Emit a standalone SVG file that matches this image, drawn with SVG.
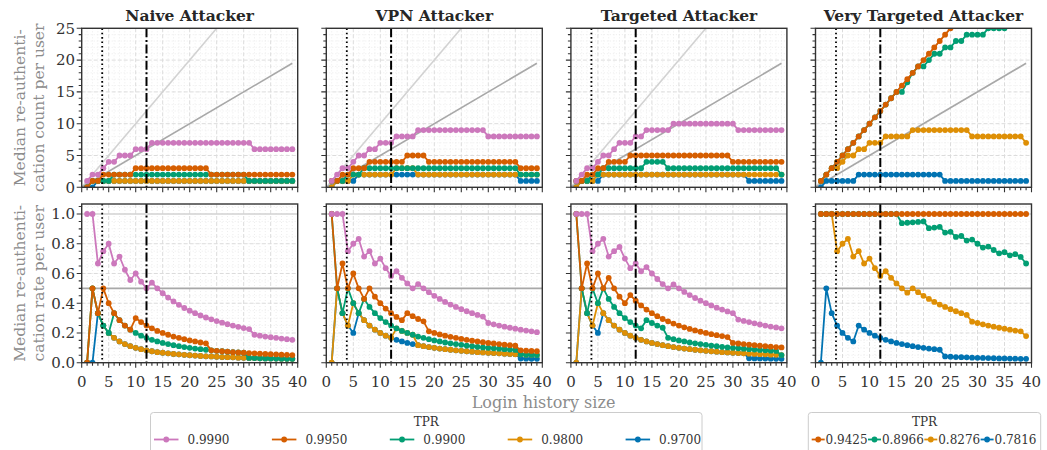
<svg xmlns="http://www.w3.org/2000/svg" width="1047" height="450" viewBox="0 0 1047 450">
<style>
text{font-family:"DejaVu Serif","Liberation Serif",serif}
.tl{font-size:15px;fill:#333}
.ty{text-anchor:end}
.tx{text-anchor:middle}
.ttl{font-size:15.5px;font-weight:bold;fill:#262626;text-anchor:middle}
.yl{font-size:15.5px;fill:#8c8c8c;text-anchor:middle}
.xl{font-size:16px;fill:#8c8c8c;text-anchor:middle}
.lg{font-size:12px;fill:#333}
.gmaj{fill:none;stroke:#dcdcdc;stroke-width:1;stroke-dasharray:4,2}
.gmin{fill:none;stroke:#e8e8e8;stroke-width:.8;stroke-dasharray:1,2}
.frame{fill:none;stroke:#333;stroke-width:1.4}
.tk{fill:none;stroke:#333;stroke-width:1.1}
.ref1{fill:none;stroke:#d2d2d2;stroke-width:1.6}
.ref2{fill:none;stroke:#a8a8a8;stroke-width:1.6}
.vdot{stroke:#000;stroke-width:1.8;stroke-dasharray:1.6,2.8}
.vdd{stroke:#000;stroke-width:2;stroke-dasharray:9,2.6,2,2.6}
.s{fill:none;stroke-width:1.8;stroke-linejoin:round;vector-effect:non-scaling-stroke}
.p{stroke:#cc78bc}.r{stroke:#d55e00}.g{stroke:#029e73}.o{stroke:#de8f05}.b{stroke:#0173b2}
.T .p{marker-start:url(#Tp);marker-mid:url(#Tp);marker-end:url(#Tp)}
.T .r{marker-start:url(#Tr);marker-mid:url(#Tr);marker-end:url(#Tr)}
.T .g{marker-start:url(#Tg);marker-mid:url(#Tg);marker-end:url(#Tg)}
.T .o{marker-start:url(#To);marker-mid:url(#To);marker-end:url(#To)}
.T .b{marker-start:url(#Tb);marker-mid:url(#Tb);marker-end:url(#Tb)}
.B .p{marker-start:url(#Bp);marker-mid:url(#Bp);marker-end:url(#Bp)}
.B .r{marker-start:url(#Br);marker-mid:url(#Br);marker-end:url(#Br)}
.B .g{marker-start:url(#Bg);marker-mid:url(#Bg);marker-end:url(#Bg)}
.B .o{marker-start:url(#Bo);marker-mid:url(#Bo);marker-end:url(#Bo)}
.B .b{marker-start:url(#Bb);marker-mid:url(#Bb);marker-end:url(#Bb)}
.lgl{stroke-width:1.8;fill:none}
</style>
<defs>
<marker id="Tp" markerUnits="userSpaceOnUse" markerWidth="1" markerHeight="1" overflow="visible"><ellipse rx=".537" ry=".456" fill="#cc78bc"/></marker>
<marker id="Tr" markerUnits="userSpaceOnUse" markerWidth="1" markerHeight="1" overflow="visible"><ellipse rx=".537" ry=".456" fill="#d55e00"/></marker>
<marker id="Tg" markerUnits="userSpaceOnUse" markerWidth="1" markerHeight="1" overflow="visible"><ellipse rx=".537" ry=".456" fill="#029e73"/></marker>
<marker id="To" markerUnits="userSpaceOnUse" markerWidth="1" markerHeight="1" overflow="visible"><ellipse rx=".537" ry=".456" fill="#de8f05"/></marker>
<marker id="Tb" markerUnits="userSpaceOnUse" markerWidth="1" markerHeight="1" overflow="visible"><ellipse rx=".537" ry=".456" fill="#0173b2"/></marker>
<marker id="Bp" markerUnits="userSpaceOnUse" markerWidth="1" markerHeight="1" overflow="visible"><ellipse rx=".537" ry=".0195" fill="#cc78bc"/></marker>
<marker id="Br" markerUnits="userSpaceOnUse" markerWidth="1" markerHeight="1" overflow="visible"><ellipse rx=".537" ry=".0195" fill="#d55e00"/></marker>
<marker id="Bg" markerUnits="userSpaceOnUse" markerWidth="1" markerHeight="1" overflow="visible"><ellipse rx=".537" ry=".0195" fill="#029e73"/></marker>
<marker id="Bo" markerUnits="userSpaceOnUse" markerWidth="1" markerHeight="1" overflow="visible"><ellipse rx=".537" ry=".0195" fill="#de8f05"/></marker>
<marker id="Bb" markerUnits="userSpaceOnUse" markerWidth="1" markerHeight="1" overflow="visible"><ellipse rx=".537" ry=".0195" fill="#0173b2"/></marker>
<clipPath id="cT"><rect x="0" y="0" width="40" height="25"/></clipPath>
<clipPath id="cB"><rect x="0" y="0" width="40" height="1.072"/></clipPath>
<g id="topBase">
<path class="gmin" d="M5.4 28.3V187.3M10.8 28.3V187.3M16.2 28.3V187.3M21.6 28.3V187.3M32.4 28.3V187.3M37.8 28.3V187.3M43.2 28.3V187.3M48.6 28.3V187.3M59.4 28.3V187.3M64.8 28.3V187.3M70.2 28.3V187.3M75.6 28.3V187.3M86.4 28.3V187.3M91.8 28.3V187.3M97.2 28.3V187.3M102.6 28.3V187.3M113.4 28.3V187.3M118.8 28.3V187.3M124.2 28.3V187.3M129.6 28.3V187.3M140.4 28.3V187.3M145.8 28.3V187.3M151.2 28.3V187.3M156.6 28.3V187.3M167.4 28.3V187.3M172.8 28.3V187.3M178.2 28.3V187.3M183.6 28.3V187.3M194.4 28.3V187.3M199.8 28.3V187.3M205.2 28.3V187.3M210.6 28.3V187.3M0 180.94H216M0 174.58H216M0 168.22H216M0 161.86H216M0 149.14H216M0 142.78H216M0 136.42H216M0 130.06H216M0 117.34H216M0 110.98H216M0 104.62H216M0 98.26H216M0 85.54H216M0 79.18H216M0 72.82H216M0 66.46H216M0 53.74H216M0 47.38H216M0 41.02H216M0 34.66H216"/>
<path class="gmaj" d="M27 28.3V187.3M54 28.3V187.3M81 28.3V187.3M108 28.3V187.3M135 28.3V187.3M162 28.3V187.3M189 28.3V187.3M0 155.5H216M0 123.7H216M0 91.9H216M0 60.1H216"/>
<path class="ref1" d="M0 187.3L135 28.3"/>
<path class="ref2" d="M0 187.3L210.6 63.28"/>
</g>
<g id="topOver">
<path class="vdot" d="M20.5 28.3V187.3"/>
<path class="vdd" d="M64.8 28.3V187.3"/>
<rect class="frame" x="0" y="28.3" width="216" height="159"/>
<path class="tk" d="M-5 187.3H0M-5 155.5H0M-5 123.7H0M-5 91.9H0M-5 60.1H0M-5 28.3H0M-3 180.94H0M-3 174.58H0M-3 168.22H0M-3 161.86H0M-3 149.14H0M-3 142.78H0M-3 136.42H0M-3 130.06H0M-3 117.34H0M-3 110.98H0M-3 104.62H0M-3 98.26H0M-3 85.54H0M-3 79.18H0M-3 72.82H0M-3 66.46H0M-3 53.74H0M-3 47.38H0M-3 41.02H0M-3 34.66H0M0 187.3v5M27 187.3v5M54 187.3v5M81 187.3v5M108 187.3v5M135 187.3v5M162 187.3v5M189 187.3v5M216 187.3v5M5.4 187.3v3M10.8 187.3v3M16.2 187.3v3M21.6 187.3v3M32.4 187.3v3M37.8 187.3v3M43.2 187.3v3M48.6 187.3v3M59.4 187.3v3M64.8 187.3v3M70.2 187.3v3M75.6 187.3v3M86.4 187.3v3M91.8 187.3v3M97.2 187.3v3M102.6 187.3v3M113.4 187.3v3M118.8 187.3v3M124.2 187.3v3M129.6 187.3v3M140.4 187.3v3M145.8 187.3v3M151.2 187.3v3M156.6 187.3v3M167.4 187.3v3M172.8 187.3v3M178.2 187.3v3M183.6 187.3v3M194.4 187.3v3M199.8 187.3v3M205.2 187.3v3M210.6 187.3v3"/>
</g>
<g id="botBase">
<path class="gmin" d="M5.4 204V362.7M10.8 204V362.7M16.2 204V362.7M21.6 204V362.7M32.4 204V362.7M37.8 204V362.7M43.2 204V362.7M48.6 204V362.7M59.4 204V362.7M64.8 204V362.7M70.2 204V362.7M75.6 204V362.7M86.4 204V362.7M91.8 204V362.7M97.2 204V362.7M102.6 204V362.7M113.4 204V362.7M118.8 204V362.7M124.2 204V362.7M129.6 204V362.7M140.4 204V362.7M145.8 204V362.7M151.2 204V362.7M156.6 204V362.7M167.4 204V362.7M172.8 204V362.7M178.2 204V362.7M183.6 204V362.7M194.4 204V362.7M199.8 204V362.7M205.2 204V362.7M210.6 204V362.7M0 355.27H216M0 347.83H216M0 340.4H216M0 325.53H216M0 318.09H216M0 310.66H216M0 295.79H216M0 280.92H216M0 266.05H216M0 258.61H216M0 251.18H216M0 236.31H216M0 228.87H216M0 221.44H216M0 206.57H216"/>
<path class="gmaj" d="M27 204V362.7M54 204V362.7M81 204V362.7M108 204V362.7M135 204V362.7M162 204V362.7M189 204V362.7M0 332.96H216M0 303.22H216M0 273.48H216M0 243.74H216"/>
<path class="ref1" d="M0 214H216"/>
<path class="ref2" d="M0 288.35H216"/>
</g>
<g id="botOver">
<path class="vdot" d="M20.5 204V362.7"/>
<path class="vdd" d="M64.8 204V362.7"/>
<rect class="frame" x="0" y="204" width="216" height="158.7"/>
<path class="tk" d="M-5 362.7H0M-5 332.96H0M-5 303.22H0M-5 273.48H0M-5 243.74H0M-5 214H0M-3 355.27H0M-3 347.83H0M-3 340.4H0M-3 325.53H0M-3 318.09H0M-3 310.66H0M-3 295.79H0M-3 288.35H0M-3 280.92H0M-3 266.05H0M-3 258.61H0M-3 251.18H0M-3 236.31H0M-3 228.87H0M-3 221.44H0M-3 206.57H0M0 362.7v5M27 362.7v5M54 362.7v5M81 362.7v5M108 362.7v5M135 362.7v5M162 362.7v5M189 362.7v5M216 362.7v5M5.4 362.7v3M10.8 362.7v3M16.2 362.7v3M21.6 362.7v3M32.4 362.7v3M37.8 362.7v3M43.2 362.7v3M48.6 362.7v3M59.4 362.7v3M64.8 362.7v3M70.2 362.7v3M75.6 362.7v3M86.4 362.7v3M91.8 362.7v3M97.2 362.7v3M102.6 362.7v3M113.4 362.7v3M118.8 362.7v3M124.2 362.7v3M129.6 362.7v3M140.4 362.7v3M145.8 362.7v3M151.2 362.7v3M156.6 362.7v3M167.4 362.7v3M172.8 362.7v3M178.2 362.7v3M183.6 362.7v3M194.4 362.7v3M199.8 362.7v3M205.2 362.7v3M210.6 362.7v3"/>
</g>
</defs>
<rect width="1047" height="450" fill="#fff"/>

<g id="naive-count">
<use href="#topBase" x="81.7"/>
<g transform="translate(81.7,187.3) scale(5.4,-6.36)"><g class="T" clip-path="url(#cT)">
<polyline class="s b" points="1,0 2,0 3,1 4,1 5,1 6,1 7,1 8,1 9,1 10,1 11,1 12,1 13,1 14,1 15,1 16,1 17,1 18,1 19,1 20,1 21,1 22,1 23,1 24,1 25,1 26,1 27,1 28,1 29,1 30,1 31,1 32,1 33,1 34,1 35,1 36,1 37,1 38,1 39,1"/>
<polyline class="s o" points="1,0 2,1 3,1 4,1 5,1 6,1 7,1 8,1 9,1 10,1 11,1 12,1 13,1 14,1 15,1 16,1 17,1 18,1 19,1 20,1 21,1 22,1 23,1 24,1 25,1 26,1 27,1 28,1 29,1 30,1 31,1 32,1 33,1 34,1 35,1 36,1 37,1 38,1 39,1"/>
<polyline class="s g" points="1,0 2,1 3,1 4,1 5,1 6,2 7,2 8,2 9,2 10,2 11,2 12,2 13,2 14,2 15,2 16,2 17,2 18,2 19,2 20,2 21,2 22,2 23,2 24,2 25,2 26,2 27,2 28,2 29,2 30,2 31,1 32,1 33,1 34,1 35,1 36,1 37,1 38,1 39,1"/>
<polyline class="s r" points="1,0 2,1 3,1 4,2 5,2 6,2 7,2 8,2 9,2 10,3 11,3 12,3 13,3 14,3 15,3 16,3 17,3 18,3 19,3 20,3 21,3 22,3 23,3 24,2 25,2 26,2 27,2 28,2 29,2 30,2 31,2 32,2 33,2 34,2 35,2 36,2 37,2 38,2 39,2"/>
<polyline class="s p" points="1,1 2,2 3,2 4,3 5,4 6,4 7,5 8,5 9,5 10,6 11,6 12,6 13,7 14,7 15,7 16,7 17,7 18,7 19,7 20,7 21,7 22,7 23,7 24,7 25,7 26,7 27,7 28,7 29,7 30,7 31,7 32,6 33,6 34,6 35,6 36,6 37,6 38,6 39,6"/>
</g></g>
<use href="#topOver" x="81.7"/>
<text class="ttl" x="189.7" y="20.5">Naive Attacker</text>
<text class="tl ty" x="75" y="192.6">0</text>
<text class="tl ty" x="75" y="160.8">5</text>
<text class="tl ty" x="75" y="129">10</text>
<text class="tl ty" x="75" y="97.2">15</text>
<text class="tl ty" x="75" y="65.4">20</text>
<text class="tl ty" x="75" y="33.6">25</text>
</g>

<g id="vpn-count">
<use href="#topBase" x="326.3"/>
<g transform="translate(326.3,187.3) scale(5.4,-6.36)"><g class="T" clip-path="url(#cT)">
<polyline class="s b" points="1,0 2,1 3,1 4,1 5,1 6,2 7,2 8,2 9,2 10,2 11,2 12,2 13,2 14,2 15,2 16,2 17,2 18,2 19,2 20,2 21,2 22,2 23,2 24,2 25,2 26,2 27,2 28,2 29,2 30,2 31,2 32,2 33,2 34,2 35,2 36,1 37,1 38,1 39,1"/>
<polyline class="s o" points="1,0 2,1 3,1 4,1 5,2 6,2 7,2 8,2 9,2 10,2 11,2 12,2 13,3 14,3 15,3 16,3 17,2 18,2 19,2 20,2 21,2 22,2 23,2 24,2 25,2 26,2 27,2 28,2 29,2 30,2 31,2 32,2 33,2 34,2 35,2 36,2 37,2 38,2 39,2"/>
<polyline class="s g" points="1,1 2,1 3,1 4,2 5,2 6,2 7,3 8,3 9,3 10,3 11,3 12,3 13,3 14,3 15,3 16,3 17,3 18,3 19,3 20,3 21,3 22,3 23,3 24,3 25,3 26,3 27,3 28,3 29,3 30,3 31,3 32,3 33,3 34,3 35,3 36,2 37,2 38,2 39,2"/>
<polyline class="s r" points="1,1 2,1 3,2 4,2 5,3 6,3 7,3 8,4 9,4 10,4 11,4 12,4 13,4 14,4 15,5 16,5 17,5 18,5 19,4 20,4 21,4 22,4 23,4 24,4 25,4 26,4 27,4 28,4 29,4 30,4 31,4 32,4 33,4 34,4 35,4 36,3 37,3 38,3 39,3"/>
<polyline class="s p" points="1,1 2,2 3,3 4,3 5,4 6,5 7,5 8,6 9,6 10,7 11,7 12,7 13,8 14,8 15,8 16,8 17,9 18,9 19,9 20,9 21,9 22,9 23,9 24,9 25,9 26,9 27,9 28,9 29,9 30,8 31,8 32,8 33,8 34,8 35,8 36,8 37,8 38,8 39,8"/>
</g></g>
<use href="#topOver" x="326.3"/>
<text class="ttl" x="434.3" y="20.5">VPN Attacker</text>
</g>

<g id="targeted-count">
<use href="#topBase" x="570.9"/>
<g transform="translate(570.9,187.3) scale(5.4,-6.36)"><g class="T" clip-path="url(#cT)">
<polyline class="s b" points="1,0 2,1 3,1 4,1 5,1 6,2 7,2 8,2 9,2 10,2 11,2 12,2 13,2 14,2 15,2 16,2 17,2 18,2 19,2 20,2 21,2 22,2 23,2 24,2 25,2 26,2 27,2 28,2 29,2 30,2 31,2 32,2 33,1 34,1 35,1 36,1 37,1 38,1 39,1"/>
<polyline class="s o" points="1,0 2,1 3,1 4,1 5,2 6,2 7,2 8,2 9,2 10,2 11,2 12,2 13,2 14,2 15,2 16,2 17,2 18,2 19,2 20,2 21,2 22,2 23,2 24,2 25,2 26,2 27,2 28,2 29,2 30,2 31,2 32,2 33,2 34,2 35,2 36,2 37,2 38,2 39,2"/>
<polyline class="s g" points="1,1 2,1 3,1 4,2 5,2 6,3 7,3 8,3 9,3 10,3 11,3 12,3 13,3 14,4 15,4 16,4 17,4 18,3 19,3 20,3 21,3 22,3 23,3 24,3 25,3 26,3 27,3 28,3 29,3 30,3 31,3 32,3 33,3 34,3 35,3 36,3 37,3 38,3 39,2"/>
<polyline class="s r" points="1,1 2,1 3,2 4,2 5,3 6,3 7,4 8,4 9,4 10,4 11,5 12,5 13,5 14,5 15,5 16,5 17,5 18,5 19,5 20,5 21,5 22,5 23,5 24,5 25,5 26,5 27,5 28,5 29,5 30,4 31,4 32,4 33,4 34,4 35,4 36,4 37,4 38,4 39,4"/>
<polyline class="s p" points="1,1 2,2 3,3 4,3 5,4 6,5 7,5 8,6 9,7 10,7 11,7 12,8 13,8 14,9 15,9 16,9 17,9 18,9 19,10 20,10 21,10 22,10 23,10 24,10 25,10 26,10 27,10 28,10 29,10 30,10 31,9 32,9 33,9 34,9 35,9 36,9 37,9 38,9 39,9"/>
</g></g>
<use href="#topOver" x="570.9"/>
<text class="ttl" x="678.9" y="20.5">Targeted Attacker</text>
</g>

<g id="very-targeted-count">
<use href="#topBase" x="815.5"/>
<g transform="translate(815.5,187.3) scale(5.4,-6.36)"><g class="T" clip-path="url(#cT)">
<polyline class="s b" points="1,0 2,1 3,1 4,1 5,1 6,1 7,1 8,2 9,2 10,2 11,2 12,2 13,2 14,2 15,2 16,2 17,2 18,2 19,2 20,2 21,2 22,2 23,2 24,1 25,1 26,1 27,1 28,1 29,1 30,1 31,1 32,1 33,1 34,1 35,1 36,1 37,1 38,1 39,1"/>
<polyline class="s o" points="1,1 2,2 3,3 4,3 5,4 6,5 7,5 8,6 9,6 10,7 11,7 12,7 13,8 14,8 15,8 16,8 17,8 18,9 19,9 20,9 21,9 22,9 23,9 24,9 25,9 26,9 27,9 28,9 29,8 30,8 31,8 32,8 33,8 34,8 35,8 36,8 37,8 38,8 39,7"/>
<polyline class="s g" points="1,1 2,2 3,3 4,4 5,5 6,6 7,7 8,8 9,9 10,10 11,11 12,12 13,13 14,14 15,15 16,15 17,16.5 18,18 19,19 20,19 21,20 22,21 23,21 24,22 25,22 26,23 27,23 28,24 29,24 30,24 31,24 32,25 33,25 34,25 35,25 36,26 37,26 38,26 39,26"/>
<polyline class="s r" points="1,1 2,2 3,3 4,4 5,5 6,6 7,7 8,8 9,9 10,10 11,11 12,12 13,13 14,14 15,15 16,16 17,17 18,18 19,19 20,20 21,21 22,22 23,23 24,24 25,25 26,26 27,27 28,28 29,29 30,30"/>
</g></g>
<use href="#topOver" x="815.5"/>
<text class="ttl" x="923.5" y="20.5">Very Targeted Attacker</text>
</g>

<g id="naive-rate">
<use href="#botBase" x="81.7"/>
<g transform="translate(81.7,362.7) scale(5.4,-148.7)"><g class="B" clip-path="url(#cB)">
<polyline class="s b" points="1,0 2,0 3,.333 4,.25 5,.2 6,.167 7,.143 8,.125 9,.111 10,.1 11,.091 12,.083 13,.077 14,.071 15,.067 16,.063 17,.059 18,.056 19,.053 20,.05 21,.048 22,.045 23,.043 24,.042 25,.04 26,.038 27,.037 28,.036 29,.034 30,.033 31,.032 32,.031 33,.03 34,.029 35,.029 36,.028 37,.027 38,.026 39,.026"/>
<polyline class="s o" points="1,0 2,.5 3,.333 4,.25 5,.2 6,.167 7,.143 8,.125 9,.111 10,.1 11,.091 12,.083 13,.077 14,.071 15,.067 16,.063 17,.059 18,.056 19,.053 20,.05 21,.048 22,.045 23,.043 24,.042 25,.04 26,.038 27,.037 28,.036 29,.034 30,.033 31,.032 32,.031 33,.03 34,.029 35,.029 36,.028 37,.027 38,.026 39,.026"/>
<polyline class="s g" points="1,0 2,.5 3,.333 4,.25 5,.2 6,.333 7,.286 8,.25 9,.222 10,.2 11,.182 12,.167 13,.154 14,.143 15,.133 16,.125 17,.118 18,.111 19,.105 20,.1 21,.095 22,.091 23,.087 24,.083 25,.08 26,.077 27,.074 28,.071 29,.069 30,.067 31,.032 32,.031 33,.03 34,.029 35,.029 36,.028 37,.027 38,.026 39,.026"/>
<polyline class="s r" points="1,0 2,.5 3,.333 4,.5 5,.4 6,.333 7,.286 8,.25 9,.222 10,.3 11,.273 12,.25 13,.231 14,.214 15,.2 16,.188 17,.176 18,.167 19,.158 20,.15 21,.143 22,.136 23,.13 24,.083 25,.08 26,.077 27,.074 28,.071 29,.069 30,.067 31,.065 32,.063 33,.061 34,.059 35,.057 36,.056 37,.054 38,.053 39,.051"/>
<polyline class="s p" points="1,1 2,1 3,.667 4,.75 5,.8 6,.667 7,.714 8,.625 9,.556 10,.6 11,.545 12,.5 13,.538 14,.5 15,.467 16,.438 17,.412 18,.389 19,.368 20,.35 21,.333 22,.318 23,.304 24,.292 25,.28 26,.269 27,.259 28,.25 29,.241 30,.233 31,.226 32,.188 33,.182 34,.176 35,.171 36,.167 37,.162 38,.158 39,.154"/>
</g></g>
<use href="#botOver" x="81.7"/>
<text class="tl ty" x="75" y="368">0.0</text>
<text class="tl ty" x="75" y="338.26">0.2</text>
<text class="tl ty" x="75" y="308.52">0.4</text>
<text class="tl ty" x="75" y="278.78">0.6</text>
<text class="tl ty" x="75" y="249.04">0.8</text>
<text class="tl ty" x="75" y="219.3">1.0</text>
<text class="tl tx" x="81.7" y="387">0</text>
<text class="tl tx" x="108.7" y="387">5</text>
<text class="tl tx" x="135.7" y="387">10</text>
<text class="tl tx" x="162.7" y="387">15</text>
<text class="tl tx" x="189.7" y="387">20</text>
<text class="tl tx" x="216.7" y="387">25</text>
<text class="tl tx" x="243.7" y="387">30</text>
<text class="tl tx" x="270.7" y="387">35</text>
<text class="tl tx" x="297.7" y="387">40</text>
</g>

<g id="vpn-rate">
<use href="#botBase" x="326.3"/>
<g transform="translate(326.3,362.7) scale(5.4,-148.7)"><g class="B" clip-path="url(#cB)">
<polyline class="s b" points="1,0 2,.5 3,.333 4,.25 5,.2 6,.333 7,.286 8,.25 9,.222 10,.2 11,.182 12,.167 13,.154 14,.143 15,.133 16,.125 17,.118 18,.111 19,.105 20,.1 21,.095 22,.091 23,.087 24,.083 25,.08 26,.077 27,.074 28,.071 29,.069 30,.067 31,.065 32,.063 33,.061 34,.059 35,.057 36,.028 37,.027 38,.026 39,.026"/>
<polyline class="s o" points="1,0 2,.5 3,.333 4,.25 5,.4 6,.333 7,.286 8,.25 9,.222 10,.2 11,.182 12,.167 13,.231 14,.214 15,.2 16,.188 17,.118 18,.111 19,.105 20,.1 21,.095 22,.091 23,.087 24,.083 25,.08 26,.077 27,.074 28,.071 29,.069 30,.067 31,.065 32,.063 33,.061 34,.059 35,.057 36,.056 37,.054 38,.053 39,.051"/>
<polyline class="s g" points="1,1 2,.5 3,.333 4,.5 5,.4 6,.333 7,.429 8,.375 9,.333 10,.3 11,.273 12,.25 13,.231 14,.214 15,.2 16,.188 17,.176 18,.167 19,.158 20,.15 21,.143 22,.136 23,.13 24,.125 25,.12 26,.115 27,.111 28,.107 29,.103 30,.1 31,.097 32,.094 33,.091 34,.088 35,.086 36,.056 37,.054 38,.053 39,.051"/>
<polyline class="s r" points="1,1 2,.5 3,.667 4,.5 5,.6 6,.5 7,.429 8,.5 9,.444 10,.4 11,.364 12,.333 13,.308 14,.286 15,.333 16,.313 17,.294 18,.278 19,.211 20,.2 21,.19 22,.182 23,.174 24,.167 25,.16 26,.154 27,.148 28,.143 29,.138 30,.133 31,.129 32,.125 33,.121 34,.118 35,.114 36,.083 37,.081 38,.079 39,.077"/>
<polyline class="s p" points="1,1 2,1 3,1 4,.75 5,.8 6,.833 7,.714 8,.75 9,.667 10,.7 11,.636 12,.583 13,.615 14,.571 15,.533 16,.5 17,.529 18,.5 19,.474 20,.45 21,.429 22,.409 23,.391 24,.375 25,.36 26,.346 27,.333 28,.321 29,.31 30,.267 31,.258 32,.25 33,.242 34,.235 35,.229 36,.222 37,.216 38,.211 39,.205"/>
</g></g>
<use href="#botOver" x="326.3"/>
<text class="tl tx" x="326.3" y="387">0</text>
<text class="tl tx" x="353.3" y="387">5</text>
<text class="tl tx" x="380.3" y="387">10</text>
<text class="tl tx" x="407.3" y="387">15</text>
<text class="tl tx" x="434.3" y="387">20</text>
<text class="tl tx" x="461.3" y="387">25</text>
<text class="tl tx" x="488.3" y="387">30</text>
<text class="tl tx" x="515.3" y="387">35</text>
<text class="tl tx" x="542.3" y="387">40</text>
</g>

<g id="targeted-rate">
<use href="#botBase" x="570.9"/>
<g transform="translate(570.9,362.7) scale(5.4,-148.7)"><g class="B" clip-path="url(#cB)">
<polyline class="s b" points="1,0 2,.5 3,.333 4,.25 5,.2 6,.333 7,.286 8,.25 9,.222 10,.2 11,.182 12,.167 13,.154 14,.143 15,.133 16,.125 17,.118 18,.111 19,.105 20,.1 21,.095 22,.091 23,.087 24,.083 25,.08 26,.077 27,.074 28,.071 29,.069 30,.067 31,.065 32,.063 33,.03 34,.029 35,.029 36,.028 37,.027 38,.026 39,.026"/>
<polyline class="s o" points="1,0 2,.5 3,.333 4,.25 5,.4 6,.333 7,.286 8,.25 9,.222 10,.2 11,.182 12,.167 13,.154 14,.143 15,.133 16,.125 17,.118 18,.111 19,.105 20,.1 21,.095 22,.091 23,.087 24,.083 25,.08 26,.077 27,.074 28,.071 29,.069 30,.067 31,.065 32,.063 33,.061 34,.059 35,.057 36,.056 37,.054 38,.053 39,.051"/>
<polyline class="s g" points="1,1 2,.5 3,.333 4,.5 5,.4 6,.5 7,.429 8,.375 9,.333 10,.3 11,.273 12,.25 13,.231 14,.286 15,.267 16,.25 17,.235 18,.167 19,.158 20,.15 21,.143 22,.136 23,.13 24,.125 25,.12 26,.115 27,.111 28,.107 29,.103 30,.1 31,.097 32,.094 33,.091 34,.088 35,.086 36,.083 37,.081 38,.079 39,.051"/>
<polyline class="s r" points="1,1 2,.5 3,.667 4,.5 5,.6 6,.5 7,.571 8,.5 9,.444 10,.4 11,.455 12,.417 13,.385 14,.357 15,.333 16,.313 17,.294 18,.278 19,.263 20,.25 21,.238 22,.227 23,.217 24,.208 25,.2 26,.192 27,.185 28,.179 29,.172 30,.133 31,.129 32,.125 33,.121 34,.118 35,.114 36,.111 37,.108 38,.105 39,.103"/>
<polyline class="s p" points="1,1 2,1 3,1 4,.75 5,.8 6,.833 7,.714 8,.75 9,.778 10,.7 11,.636 12,.667 13,.615 14,.643 15,.6 16,.563 17,.529 18,.5 19,.526 20,.5 21,.476 22,.455 23,.435 24,.417 25,.4 26,.385 27,.37 28,.357 29,.345 30,.333 31,.29 32,.281 33,.273 34,.265 35,.257 36,.25 37,.243 38,.237 39,.231"/>
</g></g>
<use href="#botOver" x="570.9"/>
<text class="tl tx" x="570.9" y="387">0</text>
<text class="tl tx" x="597.9" y="387">5</text>
<text class="tl tx" x="624.9" y="387">10</text>
<text class="tl tx" x="651.9" y="387">15</text>
<text class="tl tx" x="678.9" y="387">20</text>
<text class="tl tx" x="705.9" y="387">25</text>
<text class="tl tx" x="732.9" y="387">30</text>
<text class="tl tx" x="759.9" y="387">35</text>
<text class="tl tx" x="786.9" y="387">40</text>
</g>

<g id="very-targeted-rate">
<use href="#botBase" x="815.5"/>
<g transform="translate(815.5,362.7) scale(5.4,-148.7)"><g class="B" clip-path="url(#cB)">
<polyline class="s b" points="1,0 2,.5 3,.333 4,.25 5,.2 6,.167 7,.143 8,.25 9,.222 10,.2 11,.182 12,.167 13,.154 14,.143 15,.133 16,.125 17,.118 18,.111 19,.105 20,.1 21,.095 22,.091 23,.087 24,.042 25,.04 26,.038 27,.037 28,.036 29,.034 30,.033 31,.032 32,.031 33,.03 34,.029 35,.029 36,.028 37,.027 38,.026 39,.026"/>
<polyline class="s o" points="1,1 2,1 3,1 4,.75 5,.8 6,.833 7,.714 8,.75 9,.667 10,.7 11,.636 12,.583 13,.615 14,.571 15,.533 16,.5 17,.471 18,.5 19,.474 20,.45 21,.429 22,.409 23,.391 24,.375 25,.36 26,.346 27,.333 28,.321 29,.276 30,.267 31,.258 32,.25 33,.242 34,.235 35,.229 36,.222 37,.216 38,.211 39,.179"/>
<polyline class="s g" points="1,1 2,1 3,1 4,1 5,1 6,1 7,1 8,1 9,1 10,1 11,1 12,1 13,1 14,1 15,1 16,.938 17,.941 18,.944 19,.947 20,.95 21,.905 22,.909 23,.913 24,.875 25,.88 26,.846 27,.852 28,.821 29,.828 30,.8 31,.774 32,.781 33,.758 34,.735 35,.743 36,.722 37,.73 38,.711 39,.667"/>
<polyline class="s r" points="1,1 2,1 3,1 4,1 5,1 6,1 7,1 8,1 9,1 10,1 11,1 12,1 13,1 14,1 15,1 16,1 17,1 18,1 19,1 20,1 21,1 22,1 23,1 24,1 25,1 26,1 27,1 28,1 29,1 30,1 31,1 32,1 33,1 34,1 35,1 36,1 37,1 38,1 39,1"/>
</g></g>
<use href="#botOver" x="815.5"/>
<text class="tl tx" x="815.5" y="387">0</text>
<text class="tl tx" x="842.5" y="387">5</text>
<text class="tl tx" x="869.5" y="387">10</text>
<text class="tl tx" x="896.5" y="387">15</text>
<text class="tl tx" x="923.5" y="387">20</text>
<text class="tl tx" x="950.5" y="387">25</text>
<text class="tl tx" x="977.5" y="387">30</text>
<text class="tl tx" x="1004.5" y="387">35</text>
<text class="tl tx" x="1031.5" y="387">40</text>
</g>

<g id="axis-labels">
<text class="yl" transform="translate(25,107.8) rotate(-90)">Median re-authenti-</text>
<text class="yl" transform="translate(43.5,107.8) rotate(-90)">cation count per user</text>
<text class="yl" transform="translate(25,283.35) rotate(-90)">Median re-authenti-</text>
<text class="yl" transform="translate(43.5,283.35) rotate(-90)">cation rate per user</text>
<text class="xl" x="543.5" y="408">Login history size</text>
</g>

<g id="legend-main">
<rect x="150.5" y="412.5" width="551.5" height="45" rx="3" fill="#fff" stroke="#cccccc"/>
<text class="lg" x="426.2" y="426" text-anchor="middle">TPR</text>
<path class="lgl p" d="M154 439.5h24.5"/><circle cx="166.25" cy="439.5" r="2.9" fill="#cc78bc"/><text class="lg" x="187.5" y="443.8">0.9990</text>
<path class="lgl r" d="M271.9 439.5h24.5"/><circle cx="284.15" cy="439.5" r="2.9" fill="#d55e00"/><text class="lg" x="305.4" y="443.8">0.9950</text>
<path class="lgl g" d="M389.8 439.5h24.5"/><circle cx="402.05" cy="439.5" r="2.9" fill="#029e73"/><text class="lg" x="423.3" y="443.8">0.9900</text>
<path class="lgl o" d="M507.7 439.5h24.5"/><circle cx="519.95" cy="439.5" r="2.9" fill="#de8f05"/><text class="lg" x="541.2" y="443.8">0.9800</text>
<path class="lgl b" d="M625.6 439.5h24.5"/><circle cx="637.85" cy="439.5" r="2.9" fill="#0173b2"/><text class="lg" x="659.1" y="443.8">0.9700</text>
</g>

<g id="legend-very-targeted">
<rect x="808.3" y="412.5" width="232.4" height="45" rx="3" fill="#fff" stroke="#cccccc"/>
<text class="lg" x="924.5" y="426" text-anchor="middle">TPR</text>
<path class="lgl r" d="M811.7 439.5h13"/><circle cx="818.2" cy="439.5" r="2.9" fill="#d55e00"/><text class="lg" x="825.6" y="443.8">0.9425</text>
<path class="lgl g" d="M868 439.5h13"/><circle cx="874.5" cy="439.5" r="2.9" fill="#029e73"/><text class="lg" x="881.9" y="443.8">0.8966</text>
<path class="lgl o" d="M924.3 439.5h13"/><circle cx="930.8" cy="439.5" r="2.9" fill="#de8f05"/><text class="lg" x="938.2" y="443.8">0.8276</text>
<path class="lgl b" d="M980.6 439.5h13"/><circle cx="987.1" cy="439.5" r="2.9" fill="#0173b2"/><text class="lg" x="994.5" y="443.8">0.7816</text>
</g>
</svg>
